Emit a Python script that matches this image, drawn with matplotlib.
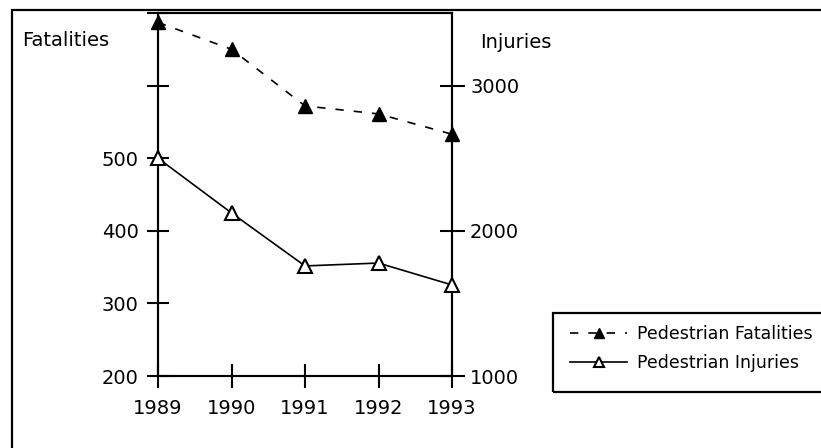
import matplotlib
matplotlib.use("Agg")
import matplotlib.pyplot as plt
from matplotlib.patches import Rectangle

years = [1989, 1990, 1991, 1992, 1993]
fatalities = [687, 650, 572, 561, 533]
injuries = [2500, 2123, 1758, 1778, 1627]
left_ticks = [200, 300, 400, 500, 600, 700]
left_labels = ["200", "300", "400", "500", "", ""]
right_ticks = [1000, 2000, 3000]
right_labels = ["1000", "2000", "3000"]

plt.rcParams['font.family'] = ['DejaVu Sans']
W, H = 821, 448
fig = plt.figure(figsize=(W / 100, H / 100), dpi=100)
fig.patch.set_facecolor('white')

# outer frame
fig.patches.append(Rectangle((12 / W, -0.1), 2.0, (H - 10) / H + 0.1,
                             transform=fig.transFigure, fill=False,
                             edgecolor='black', linewidth=1.6))
# legend frame
fig.patches.append(Rectangle((553 / W, 1 - 392 / H), 1.0, (392 - 313) / H,
                             transform=fig.transFigure, fill=False,
                             edgecolor='black', linewidth=1.6))

ax = fig.add_axes([158 / W, (H - 376) / H, (452 - 158) / W, (376 - 13) / H])
ax2 = ax.twinx()

for a in (ax, ax2):
    for s in a.spines.values():
        s.set_linewidth(1.5)
        s.set_color('black')

ax.set_xlim(1989, 1993)
ax.set_ylim(200, 700)
ax2.set_ylim(1000, 3500)

ax.set_xticks(years)
ax.set_xticklabels([str(y) for y in years])
ax.set_yticks(left_ticks)
ax.set_yticklabels(left_labels)
ax2.set_yticks(right_ticks)
ax2.set_yticklabels(right_labels)

ax.tick_params(axis='x', direction='inout', length=17, width=1.5, pad=8, labelsize=14)
ax.tick_params(axis='y', direction='inout', length=16, width=1.5, pad=6, labelsize=14)
ax2.tick_params(axis='y', direction='inout', length=18, width=1.5, pad=4, labelsize=14)

l1, = ax.plot(years, fatalities, color='black', linewidth=1.2, dashes=(5, 6),
              marker='^', markersize=10, markerfacecolor='black',
              markeredgecolor='black', clip_on=False, zorder=5,
              label='Pedestrian Fatalities')
l2, = ax2.plot(years, injuries, color='black', linewidth=1.2,
               marker='^', markersize=9.5, markerfacecolor='white',
               markeredgecolor='black', markeredgewidth=1.5, clip_on=False,
               zorder=5, label='Pedestrian Injuries')

fig.text(22 / W, 1 - 41 / H, "Fatalities", fontsize=14, va='center', ha='left')
fig.text(480 / W, 1 - 42 / H, "Injuries", fontsize=14, va='center', ha='left')

leg = fig.legend([l1, l2], ['Pedestrian Fatalities', 'Pedestrian Injuries'],
                 loc='upper left', bbox_to_anchor=(570 / W, 1 - 325 / H),
                 bbox_transform=fig.transFigure, fontsize=12.5,
                 frameon=False, markerscale=0.7,
                 handlelength=3.3, handletextpad=0.55, borderpad=0,
                 labelspacing=0.65, borderaxespad=0)

fig.savefig("out.png", dpi=100)
